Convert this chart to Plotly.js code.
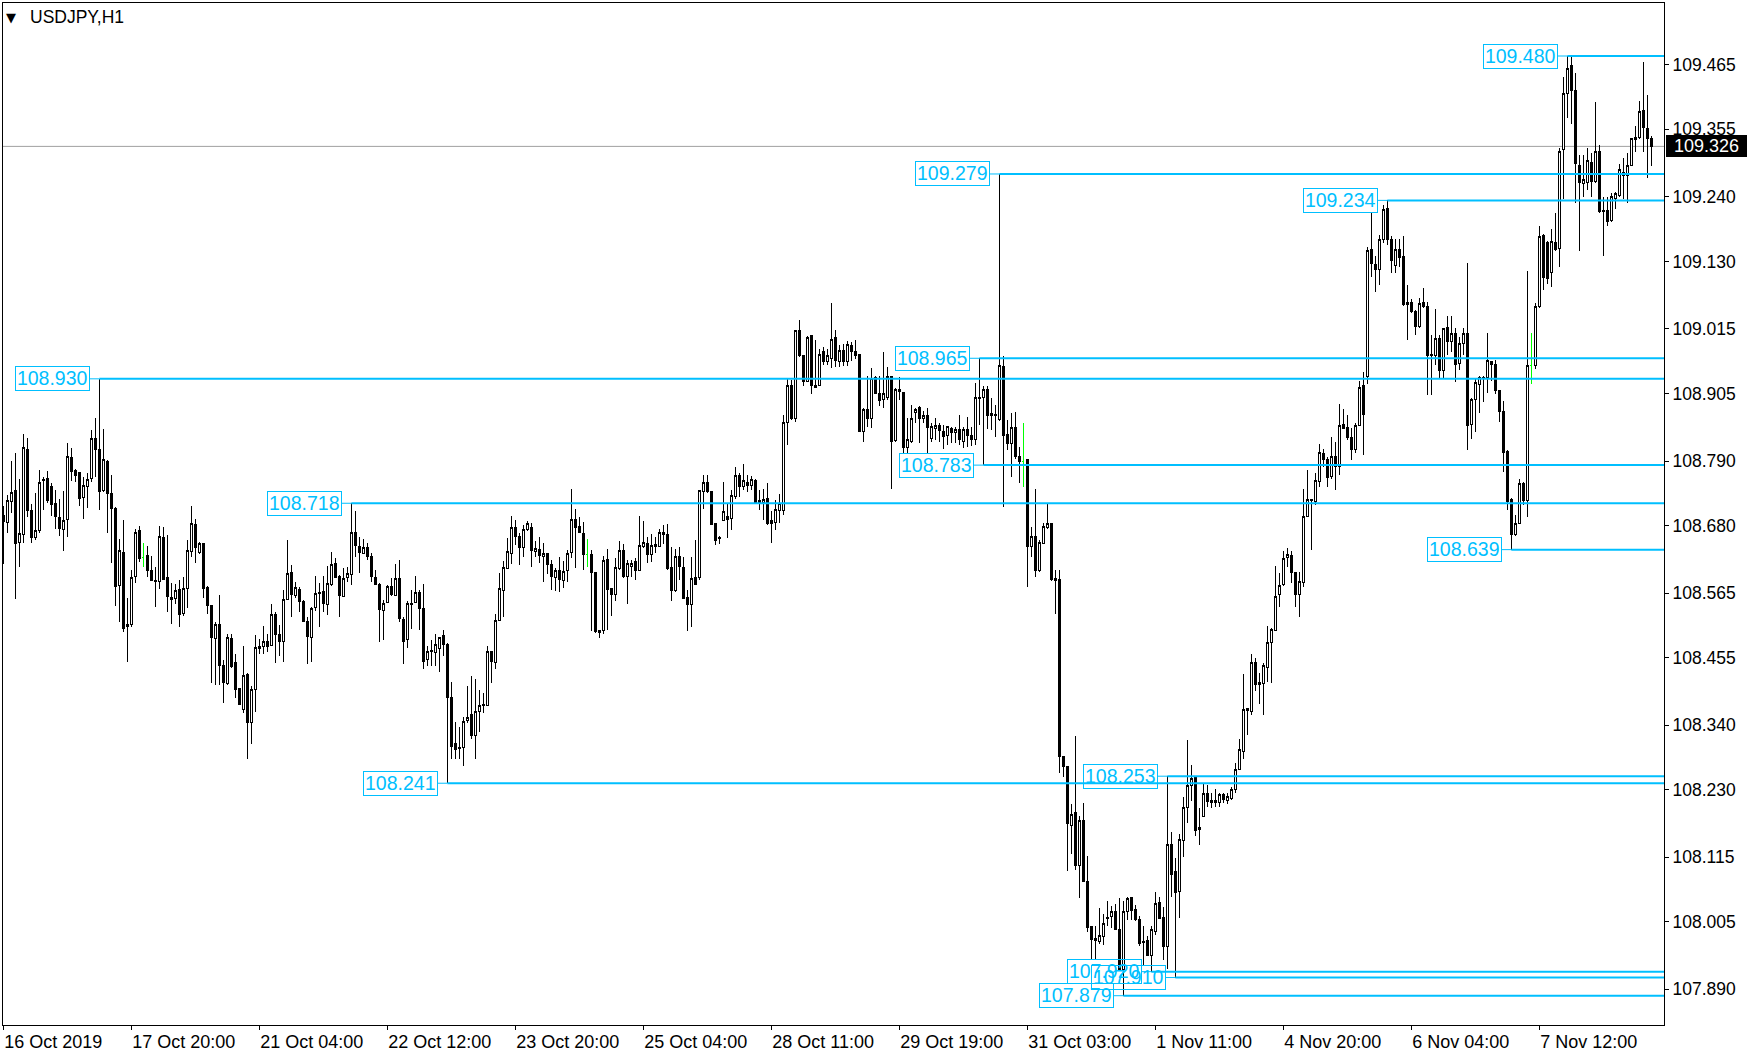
<!DOCTYPE html>
<html><head><meta charset="utf-8">
<script src="https://cdn.plot.ly/plotly-3.0.1.min.js"></script>
<style>
html,body{margin:0;padding:0;background:#fff;}
#chart{width:1756px;height:1058px;}
.boxlayer path{shape-rendering:crispEdges;}
</style>
</head><body><div id="chart"></div>
<script>
const symbol = 'USDJPY,H1';
const open = [
108.698,108.685,108.721,108.739,108.651,108.665,108.809,108.706,108.660,108.671,
108.756,108.760,108.747,108.717,108.694,108.673,108.690,108.796,108.773,108.771,
108.727,108.746,108.760,108.829,108.810,108.739,108.790,108.735,108.709,108.578,
108.634,108.511,108.512,108.593,108.672,108.626,108.629,108.604,108.587,108.585,
108.660,108.592,108.558,108.556,108.571,108.530,108.573,108.635,108.682,108.634,
108.649,108.574,108.543,108.488,108.512,108.442,108.411,108.488,108.446,108.403,
108.367,108.427,108.344,108.401,108.474,108.474,108.482,108.476,108.529,108.494,
108.482,108.554,108.600,108.561,108.571,108.551,108.516,108.490,108.541,108.565,
108.568,108.545,108.579,108.616,108.593,108.559,108.592,108.597,108.669,108.645,
108.633,108.643,108.628,108.592,108.580,108.535,108.549,108.576,108.561,108.589,
108.520,108.486,108.548,108.549,108.566,108.538,108.451,108.468,108.463,108.470,
108.493,108.478,108.387,108.309,108.302,108.302,108.348,108.358,108.322,108.364,
108.374,108.374,108.465,108.447,108.518,108.570,108.607,108.633,108.677,108.662,
108.642,108.674,108.677,108.636,108.639,108.628,108.633,108.614,108.591,108.603,
108.587,108.603,108.634,108.691,108.679,108.667,108.631,108.631,108.600,108.498,
108.502,108.622,108.572,108.563,108.607,108.637,108.593,108.610,108.619,108.604,
108.645,108.650,108.631,108.648,108.645,108.669,108.665,108.609,108.569,108.628,
108.609,108.558,108.545,108.591,108.592,108.738,108.753,108.738,108.684,108.660,
108.689,108.695,108.692,108.729,108.765,108.746,108.754,108.748,108.756,108.722,
108.720,108.726,108.688,108.685,108.705,108.705,108.855,108.918,108.863,109.013,
108.969,108.926,109.003,108.919,108.918,108.977,108.959,108.965,109.001,108.960,
108.978,108.959,108.986,108.977,108.972,108.841,108.877,108.862,108.932,108.905,
108.894,108.898,108.934,108.825,108.911,108.907,108.813,108.823,108.872,108.881,
108.863,108.867,108.828,108.846,108.850,108.841,108.834,108.846,108.838,108.844,
108.823,108.844,108.833,108.827,108.898,108.898,108.911,108.871,108.870,108.861,
108.951,108.836,108.819,108.847,108.798,108.790,108.792,108.644,108.662,108.604,
108.650,108.676,108.684,108.590,108.588,108.287,108.269,108.169,108.191,108.100,
108.178,108.073,107.997,107.976,107.971,107.980,108.013,108.014,108.022,107.992,
107.923,108.022,108.046,108.026,108.009,107.972,107.973,107.948,107.989,108.038,
108.013,107.963,108.137,108.090,108.056,108.144,108.200,108.238,108.252,108.165,
108.185,108.224,108.208,108.208,108.208,108.221,108.211,108.215,108.230,108.265,
108.295,108.369,108.363,108.446,108.410,108.411,108.439,108.481,108.502,108.563,
108.580,108.626,108.629,108.600,108.562,108.583,108.695,108.724,108.721,108.755,
108.803,108.793,108.763,108.797,108.781,108.852,108.847,108.830,108.809,108.851,
108.918,108.934,109.151,109.124,109.117,109.168,109.220,109.168,109.123,109.151,
109.139,109.057,109.060,109.044,109.019,109.060,109.054,108.972,108.969,108.998,
108.944,109.018,108.994,109.008,108.956,108.991,109.008,108.853,108.894,108.921,
108.932,108.932,108.959,108.955,108.910,108.875,108.806,108.724,108.665,108.684,
108.752,108.722,108.953,108.953,109.053,109.174,109.162,109.111,109.162,109.152,
109.320,109.416,109.463,109.422,109.294,109.263,109.264,109.299,109.266,109.318,
109.217,109.216,109.200,109.238,109.243,109.277,109.276,109.293,109.337,109.341,
109.388,109.357,109.339];
const high = [
108.713,108.732,108.790,108.803,108.760,108.836,108.829,108.717,108.735,108.775,
108.762,108.773,108.752,108.741,108.726,108.739,108.820,108.813,108.777,108.772,
108.762,108.769,108.843,108.863,108.930,108.844,108.792,108.766,108.712,108.657,
108.689,108.556,108.604,108.675,108.679,108.651,108.645,108.628,108.610,108.679,
108.678,108.664,108.583,108.580,108.587,108.593,108.655,108.713,108.692,108.652,
108.650,108.577,108.544,108.515,108.562,108.451,108.495,108.495,108.461,108.404,
108.475,108.428,108.406,108.494,108.487,108.509,108.496,108.546,108.532,108.511,
108.571,108.655,108.613,108.584,108.575,108.553,108.524,108.542,108.594,108.583,
108.594,108.611,108.635,108.625,108.596,108.608,108.610,108.718,108.705,108.660,
108.657,108.651,108.634,108.605,108.583,108.554,108.579,108.590,108.615,108.621,
108.525,108.552,108.570,108.594,108.570,108.580,108.474,108.485,108.496,108.491,
108.502,108.480,108.414,108.346,108.337,108.354,108.406,108.423,108.418,108.400,
108.394,108.474,108.466,108.530,108.600,108.619,108.658,108.696,108.690,108.667,
108.681,108.687,108.684,108.653,108.660,108.650,108.634,108.621,108.607,108.626,
108.619,108.638,108.743,108.708,108.695,108.686,108.657,108.638,108.601,108.502,
108.628,108.640,108.574,108.624,108.653,108.648,108.621,108.622,108.625,108.696,
108.687,108.661,108.665,108.661,108.674,108.681,108.682,108.644,108.640,108.644,
108.626,108.570,108.626,108.655,108.741,108.767,108.767,108.739,108.685,108.662,
108.754,108.718,108.741,108.780,108.769,108.785,108.766,108.764,108.759,108.741,
108.742,108.753,108.704,108.724,108.734,108.868,108.929,108.928,109.014,109.030,
108.971,109.003,109.005,108.996,108.980,108.985,108.980,109.060,109.013,108.988,
108.989,108.994,108.993,108.997,108.972,108.881,108.935,108.948,108.935,108.935,
108.975,108.950,108.935,108.914,108.933,108.908,108.864,108.885,108.881,108.883,
108.875,108.880,108.855,108.864,108.854,108.851,108.850,108.848,108.848,108.868,
108.848,108.865,108.848,108.923,108.965,108.918,108.917,108.898,108.885,109.279,
108.969,108.860,108.871,108.874,108.814,108.854,108.793,108.678,108.742,108.655,
108.685,108.718,108.685,108.604,108.604,108.288,108.270,108.206,108.321,108.185,
108.208,108.117,107.998,107.997,108.028,108.019,108.041,108.031,108.036,108.045,
108.041,108.048,108.048,108.034,108.014,107.997,107.981,107.998,108.056,108.048,
108.030,108.253,108.158,108.113,108.154,108.218,108.315,108.272,108.253,108.198,
108.240,108.238,108.225,108.231,108.225,108.225,108.224,108.235,108.276,108.316,
108.427,108.370,108.461,108.454,108.428,108.446,108.509,108.505,108.611,108.599,
108.636,108.641,108.636,108.601,108.601,108.743,108.775,108.726,108.770,108.819,
108.810,108.797,108.831,108.823,108.887,108.878,108.868,108.846,108.854,108.927,
108.941,109.155,109.215,109.139,109.175,109.226,109.234,109.174,109.168,109.168,
109.174,109.090,109.066,109.047,109.067,109.084,109.061,109.004,109.049,109.004,
109.016,109.037,109.037,109.016,109.002,109.016,109.127,108.897,108.932,108.935,
108.934,109.008,108.960,108.962,108.911,108.893,108.808,108.727,108.698,108.759,
108.754,109.113,109.008,109.060,109.191,109.176,109.164,109.185,109.213,109.324,
109.445,109.480,109.479,109.451,109.311,109.311,109.323,109.314,109.401,109.328,
109.240,109.240,109.247,109.249,109.296,109.307,109.315,109.341,109.361,109.403,
109.469,109.414,109.343];
const low = [
108.614,108.667,108.701,108.555,108.610,108.651,108.695,108.651,108.655,108.667,
108.706,108.718,108.696,108.675,108.662,108.637,108.661,108.756,108.755,108.714,
108.692,108.710,108.755,108.762,108.707,108.738,108.668,108.616,108.543,108.516,
108.499,108.448,108.508,108.583,108.618,108.610,108.592,108.585,108.542,108.572,
108.587,108.533,108.513,108.546,108.508,108.526,108.539,108.627,108.617,108.631,
108.557,108.530,108.412,108.408,108.408,108.378,108.408,108.438,108.387,108.374,
108.360,108.282,108.308,108.363,108.462,108.461,108.465,108.475,108.446,108.458,
108.448,108.553,108.525,108.556,108.533,108.515,108.445,108.448,108.535,108.507,
108.532,108.528,108.577,108.590,108.525,108.558,108.584,108.579,108.627,108.599,
108.632,108.621,108.584,108.578,108.481,108.485,108.548,108.560,108.560,108.515,
108.445,108.471,108.503,108.548,108.502,108.435,108.440,108.441,108.440,108.430,
108.457,108.241,108.283,108.283,108.283,108.270,108.343,108.316,108.282,108.329,
108.360,108.373,108.412,108.435,108.518,108.524,108.607,108.614,108.647,108.613,
108.627,108.670,108.610,108.627,108.616,108.584,108.597,108.570,108.569,108.567,
108.573,108.584,108.624,108.607,108.667,108.604,108.610,108.500,108.497,108.489,
108.495,108.502,108.526,108.552,108.604,108.590,108.546,108.592,108.587,108.603,
108.641,108.617,108.618,108.633,108.643,108.648,108.604,108.552,108.567,108.587,
108.555,108.501,108.507,108.579,108.587,108.709,108.735,108.681,108.647,108.649,
108.688,108.658,108.672,108.725,108.729,108.741,108.738,108.741,108.719,108.706,
108.689,108.681,108.650,108.672,108.684,108.698,108.817,108.860,108.857,108.968,
108.918,108.925,108.904,108.915,108.917,108.954,108.954,108.948,108.950,108.951,
108.952,108.952,108.961,108.963,108.840,108.823,108.848,108.846,108.904,108.883,
108.881,108.894,108.743,108.823,108.894,108.803,108.804,108.821,108.854,108.820,
108.854,108.804,108.823,108.826,108.823,108.810,108.817,108.820,108.820,108.817,
108.812,108.814,108.816,108.817,108.851,108.783,108.844,108.843,108.831,108.858,
108.712,108.809,108.763,108.793,108.753,108.746,108.576,108.627,108.593,108.601,
108.649,108.675,108.586,108.530,108.258,108.252,108.092,108.120,108.093,108.045,
108.072,107.988,107.940,107.940,107.967,107.965,107.997,107.994,107.991,107.922,
107.879,108.008,108.008,108.007,107.963,107.930,107.946,107.920,107.982,108.009,
107.940,107.925,108.048,107.910,108.011,108.116,108.173,108.210,108.151,108.136,
108.184,108.201,108.198,108.201,108.201,108.207,108.206,108.212,108.225,108.264,
108.282,108.323,108.357,108.399,108.376,108.357,108.414,108.412,108.501,108.542,
108.577,108.610,108.583,108.541,108.525,108.576,108.694,108.639,108.715,108.746,
108.780,108.746,108.760,108.740,108.766,108.844,108.825,108.791,108.803,108.850,
108.800,108.921,109.103,109.078,109.090,109.161,109.158,109.111,109.110,109.120,
109.054,108.997,109.043,109.004,109.016,109.050,108.903,108.902,108.953,108.932,
108.931,108.971,108.976,108.924,108.945,108.971,108.809,108.827,108.839,108.871,
108.891,108.906,108.927,108.904,108.856,108.771,108.707,108.639,108.663,108.683,
108.715,108.695,108.922,108.947,109.050,109.082,109.091,109.086,109.148,109.120,
109.236,109.374,109.365,109.229,109.148,109.240,109.252,109.239,109.263,109.213,
109.139,109.190,109.198,109.219,109.240,109.236,109.229,109.293,109.317,109.338,
109.317,109.273,109.293];
const close = [
108.687,108.723,108.737,108.649,108.667,108.813,108.705,108.659,108.672,108.754,
108.759,108.723,108.716,108.695,108.675,108.689,108.797,108.772,108.766,108.726,
108.748,108.759,108.829,108.810,108.738,108.793,108.734,108.709,108.576,108.638,
108.504,108.508,108.592,108.668,108.624,108.626,108.604,108.587,108.584,108.662,
108.588,108.559,108.554,108.570,108.529,108.573,108.638,108.684,108.643,108.650,
108.572,108.543,108.489,108.512,108.442,108.412,108.490,108.440,108.401,108.375,
108.425,108.344,108.401,108.473,108.471,108.483,108.474,108.529,108.495,108.482,
108.554,108.599,108.562,108.574,108.550,108.516,108.491,108.539,108.565,108.566,
108.548,108.582,108.614,108.592,108.561,108.590,108.599,108.669,108.646,108.634,
108.643,108.627,108.593,108.579,108.537,108.548,108.576,108.562,108.590,108.521,
108.482,108.548,108.546,108.566,108.538,108.448,108.466,108.465,108.477,108.490,
108.478,108.387,108.303,108.298,108.300,108.347,108.353,108.322,108.364,108.373,
108.375,108.466,108.448,108.519,108.572,108.609,108.635,108.677,108.662,108.642,
108.674,108.684,108.638,108.641,108.629,108.633,108.614,108.593,108.603,108.588,
108.601,108.633,108.691,108.677,108.668,108.631,108.631,108.600,108.499,108.502,
108.621,108.571,108.562,108.609,108.638,108.593,108.616,108.616,108.604,108.646,
108.652,108.631,108.646,108.644,108.669,108.664,108.607,108.569,108.628,108.610,
108.556,108.545,108.590,108.580,108.739,108.753,108.738,108.682,108.654,108.658,
108.704,108.691,108.731,108.765,108.746,108.756,108.748,108.759,108.720,108.720,
108.725,108.684,108.683,108.708,108.718,108.855,108.919,108.863,109.013,108.969,
108.926,109.001,108.918,108.915,108.972,108.959,108.969,108.997,108.961,108.978,
108.959,108.989,108.976,108.970,108.841,108.877,108.862,108.931,108.905,108.893,
108.905,108.934,108.823,108.911,108.909,108.813,108.826,108.863,108.877,108.863,
108.868,108.847,108.848,108.851,108.842,108.831,108.848,108.838,108.843,108.826,
108.843,108.833,108.827,108.898,108.896,108.911,108.868,108.868,108.867,108.952,
108.833,108.819,108.847,108.797,108.789,108.790,108.644,108.661,108.604,108.651,
108.678,108.684,108.588,108.586,108.287,108.269,108.173,108.188,108.100,108.178,
108.073,107.995,107.974,107.973,107.981,108.002,108.011,108.023,107.992,107.923,
108.023,108.045,108.025,108.008,107.968,107.970,107.948,107.992,108.036,108.011,
107.963,108.137,108.085,108.055,108.145,108.200,108.238,108.249,108.160,108.162,
108.224,108.210,108.212,108.211,108.222,108.214,108.218,108.231,108.265,108.298,
108.367,108.365,108.446,108.410,108.413,108.441,108.481,108.503,108.559,108.578,
108.624,108.630,108.600,108.562,108.584,108.696,108.724,108.722,108.756,108.804,
108.793,108.762,108.797,108.780,108.851,108.846,108.830,108.809,108.851,108.915,
108.870,109.148,109.126,109.117,109.168,109.219,109.168,109.132,109.151,109.137,
109.056,109.060,109.044,109.019,109.059,109.053,108.969,108.969,108.998,108.944,
109.015,108.994,109.008,108.955,108.991,109.008,108.850,108.894,108.924,108.932,
108.931,108.961,108.955,108.910,108.874,108.805,108.721,108.665,108.684,108.752,
108.722,108.953,108.953,109.054,109.173,109.103,109.101,109.164,109.150,109.318,
109.416,109.459,109.421,109.297,109.264,109.270,109.302,109.266,109.318,109.215,
109.215,109.198,109.241,109.245,109.286,109.281,109.293,109.339,109.341,109.386,
109.358,109.340,109.326];

const timeLabels = ['16 Oct 2019','17 Oct 20:00','21 Oct 04:00','22 Oct 12:00','23 Oct 20:00','25 Oct 04:00','28 Oct 11:00','29 Oct 19:00','31 Oct 03:00','1 Nov 11:00','4 Nov 20:00','6 Nov 04:00','7 Nov 12:00'];
const timeLabelBars = [0,32,64,96,128,160,192,224,256,288,320,352,384];
const priceTicks = [109.465,109.355,109.240,109.130,109.015,108.905,108.790,108.680,108.565,108.455,108.340,108.230,108.115,108.005,107.890];
const levelPrices = [109.480,109.279,109.234,108.965,108.930,108.783,108.718,108.639,108.253,108.241,107.920,107.910,107.879];
const levelBars   = [391,249,346,244,24,245,87,377,291,111,287,293,280];
const lastPrice = 109.326;

// ---- styling / geometry ----
const FONT = 'Liberation Sans, Arial, sans-serif';
const LEVEL_COLOR = '#00BFFF';
const PX_PER_BAR = 4;
const X_RANGE = [-0.075, 415.175];
const Y_RANGE = [107.8291, 109.5703];

const barIndex = open.map((_, i) => i);
const isDoji = barIndex.map(i => open[i] === close[i]);
const pick = (arr, keep) => arr.filter((_, i) => isDoji[i] === keep);

const mainTrace = {
  type: 'candlestick',
  x: pick(barIndex, false), open: pick(open, false), high: pick(high, false),
  low: pick(low, false), close: pick(close, false),
  increasing: {line: {color: '#000000', width: 1}, fillcolor: '#FFFFFF'},
  decreasing: {line: {color: '#000000', width: 1}, fillcolor: '#000000'},
  whiskerwidth: 0, hoverinfo: 'none', showlegend: false
};
const dojiTrace = {
  type: 'candlestick',
  x: pick(barIndex, true), open: pick(open, true), high: pick(high, true),
  low: pick(low, true), close: pick(close, true),
  increasing: {line: {color: '#00FF00', width: 1}, fillcolor: '#00FF00'},
  decreasing: {line: {color: '#00FF00', width: 1}, fillcolor: '#00FF00'},
  whiskerwidth: 0, hoverinfo: 'none', showlegend: false
};

const GAP_PX = 9.5;
const shapes = [];
const annotations = [];
levelPrices.forEach((p, k) => {
  const b = levelBars[k];
  shapes.push({type: 'line', xref: 'x', yref: 'y', x0: b - GAP_PX / PX_PER_BAR, x1: b, y0: p, y1: p,
    line: {color: LEVEL_COLOR, width: 1}, layer: 'above'});
  shapes.push({type: 'line', xref: 'x', yref: 'y', x0: b, x1: X_RANGE[1], y0: p, y1: p,
    line: {color: LEVEL_COLOR, width: 2}, layer: 'above'});
  annotations.push({xref: 'x', yref: 'y', x: b, y: p, xanchor: 'right', yanchor: 'middle', xshift: -GAP_PX,
    text: p.toFixed(3), showarrow: false, font: {family: FONT, size: 19.5, color: LEVEL_COLOR},
    bordercolor: LEVEL_COLOR, borderwidth: 1, borderpad: 0, width: 72.5, height: 22.5, align: 'center'});
});
// current price line
shapes.push({type: 'line', xref: 'paper', yref: 'y', x0: 0, x1: 1, y0: lastPrice, y1: lastPrice,
  line: {color: '#A0A0A0', width: 1}, layer: 'below'});
annotations.push({xref: 'paper', yref: 'y', x: 1, y: lastPrice, xanchor: 'left', yanchor: 'middle', xshift: 2,
  text: lastPrice.toFixed(3), showarrow: false, font: {family: FONT, size: 18, color: '#FFFFFF'},
  bgcolor: '#000000', bordercolor: '#000000', borderwidth: 1, borderpad: 0, width: 79, height: 20, align: 'center'});
// symbol title
annotations.push({xref: 'paper', yref: 'paper', x: 0, y: 1, xanchor: 'left', yanchor: 'middle', xshift: 1, yshift: -14,
  text: '▼', showarrow: false, font: {family: 'DejaVu Sans', size: 13, color: '#000'}});
annotations.push({xref: 'paper', yref: 'paper', x: 0, y: 1, xanchor: 'left', yanchor: 'middle', xshift: 25, yshift: -14,
  text: symbol, showarrow: false, font: {family: FONT, size: 17.5, color: '#000'}});

const layout = {
  width: 1756, height: 1058,
  margin: {l: 3, r: 92, t: 3, b: 33, pad: 0},
  paper_bgcolor: '#FFFFFF', plot_bgcolor: '#FFFFFF',
  showlegend: false,
  boxgap: 0.5, boxgroupgap: 0,
  xaxis: {
    type: 'linear', range: X_RANGE, fixedrange: true, automargin: false,
    showgrid: false, zeroline: false, showline: true, mirror: true, linecolor: '#000', linewidth: 1,
    ticks: 'outside', ticklen: 4, tickcolor: '#000', tickwidth: 1,
    tickmode: 'array', tickvals: timeLabelBars, ticktext: timeLabels,
    ticklabelposition: 'outside right',
    tickfont: {family: FONT, size: 18, color: '#000'},
    rangeslider: {visible: false}
  },
  yaxis: {
    side: 'right', range: Y_RANGE, fixedrange: true, automargin: false,
    showgrid: false, zeroline: false, showline: true, mirror: true, linecolor: '#000', linewidth: 1,
    ticks: 'outside', ticklen: 4, tickcolor: '#000', tickwidth: 1,
    tickmode: 'array', tickvals: priceTicks, ticktext: priceTicks.map(v => v.toFixed(3)),
    tickfont: {family: FONT, size: 17.5, color: '#000'}
  },
  shapes: shapes,
  annotations: annotations
};

Plotly.newPlot('chart', [mainTrace, dojiTrace], layout, {staticPlot: true, displayModeBar: false});
</script>
</body></html>
